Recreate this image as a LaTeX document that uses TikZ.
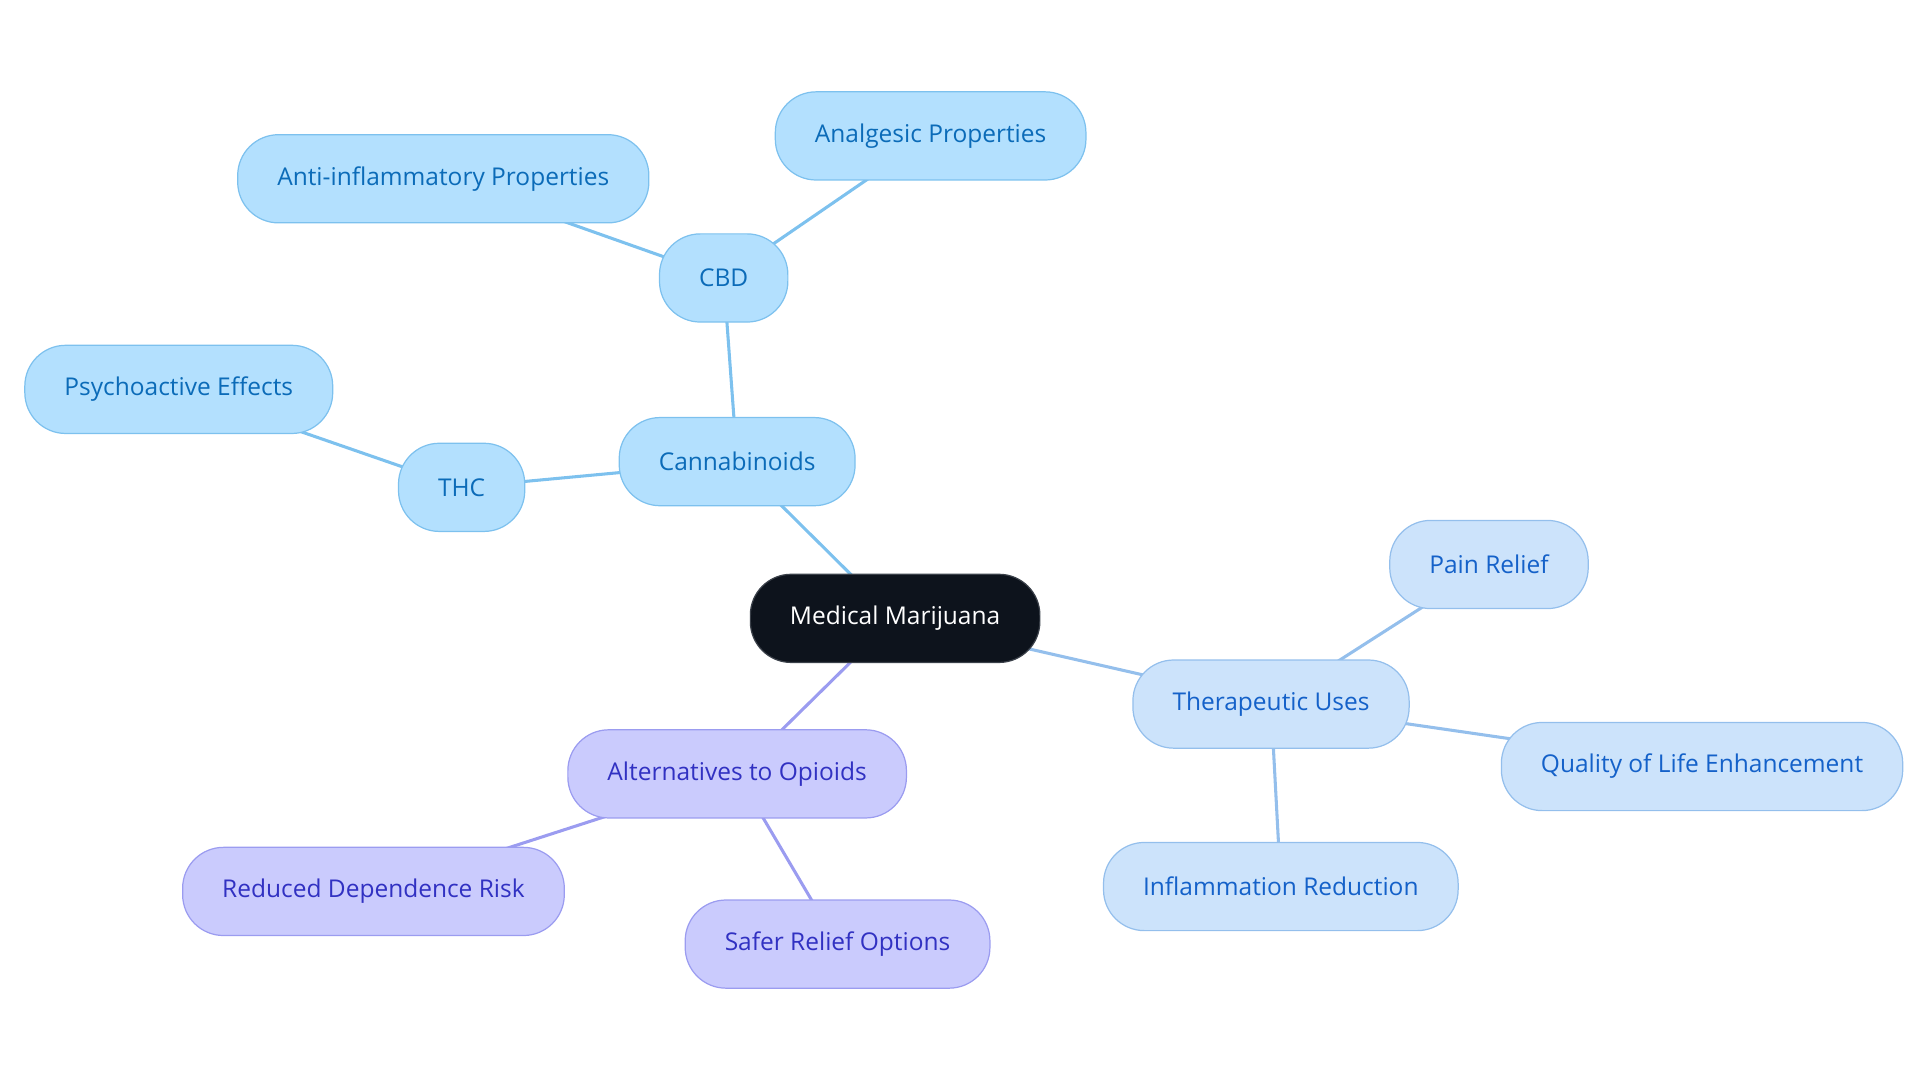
\documentclass[tikz,border=0pt]{standalone}
\usepackage{fontspec}
\setmainfont{Open Sans}
\usetikzlibrary{backgrounds}
\definecolor{rootfill}{HTML}{0D131C}
\definecolor{rootline}{HTML}{3A4049}
\definecolor{skyfill}{HTML}{B3E0FE}
\definecolor{skyline}{HTML}{7DC1EE}
\definecolor{skytext}{HTML}{0B6BB8}
\definecolor{palefill}{HTML}{CCE3FB}
\definecolor{paleline}{HTML}{94BFEC}
\definecolor{paletext}{HTML}{1461C9}
\definecolor{violetfill}{HTML}{CACBFD}
\definecolor{violetline}{HTML}{9B9CF0}
\definecolor{violettext}{HTML}{3131C2}
\begin{document}
\begin{tikzpicture}[x=0.6pt,y=-0.6pt,
  pill/.style={draw, line width=0.6pt, rounded corners=20pt, minimum height=43.2pt,
    inner xsep=19.4pt, font=\fontsize{12}{14}\selectfont},
  root/.style={pill, fill=rootfill, draw=rootline, text=white},
  sky/.style={pill, fill=skyfill, draw=skyline, text=skytext},
  pale/.style={pill, fill=palefill, draw=paleline, text=paletext},
  violet/.style={pill, fill=violetfill, draw=violetline, text=violettext},
  link/.style={line width=1.5pt}]
\useasboundingbox (0,0) rectangle (1568,884.5);
\node[root] (1) at (731,505) {Medical Marijuana};
\node[sky] (2) at (602,377) {Cannabinoids};
\node[sky] (3) at (591,227) {CBD};
\node[sky] (4) at (760,111) {Analgesic Properties};
\node[sky] (5) at (362,146) {Anti-inflammatory Properties};
\node[sky] (6) at (377,398) {THC};
\node[sky] (7) at (146,318) {Psychoactive Effects};
\node[pale] (8) at (1038,575) {Therapeutic Uses};
\node[pale] (9) at (1216,461) {Pain Relief};
\node[pale] (10) at (1390,626) {Quality of Life Enhancement};
\node[pale] (11) at (1046,724) {Inflammation Reduction};
\node[violet] (12) at (602,632) {Alternatives to Opioids};
\node[violet] (13) at (305,728) {Reduced Dependence Risk};
\node[violet] (14) at (684,771) {Safer Relief Options};
\begin{scope}[on background layer]
\path[draw=skyline,link] (1.center) -- (2.center);
\path[draw=skyline,link] (2.center) -- (3.center);
\path[draw=skyline,link] (3.center) -- (4.center);
\path[draw=skyline,link] (3.center) -- (5.center);
\path[draw=skyline,link] (2.center) -- (6.center);
\path[draw=skyline,link] (6.center) -- (7.center);
\path[draw=paleline,link] (1.center) -- (8.center);
\path[draw=paleline,link] (8.center) -- (9.center);
\path[draw=paleline,link] (8.center) -- (10.center);
\path[draw=paleline,link] (8.center) -- (11.center);
\path[draw=violetline,link] (1.center) -- (12.center);
\path[draw=violetline,link] (12.center) -- (13.center);
\path[draw=violetline,link] (12.center) -- (14.center);
\end{scope}
\end{tikzpicture}
\end{document}
